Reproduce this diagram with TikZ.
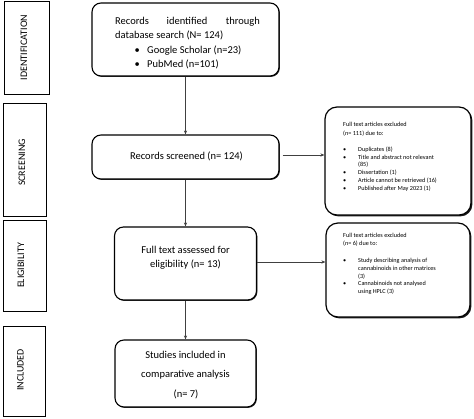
\documentclass[tikz,border=0pt]{standalone}
\usepackage{fontspec}
\setmainfont{Carlito}
\usetikzlibrary{shadows,arrows.meta,calc}
\begin{document}
\begin{tikzpicture}[x=1pt,y=-1pt,
  mainbox/.style={draw=black,line width=1.1pt,rounded corners=9pt,fill=white,inner sep=0pt,
    drop shadow={shadow xshift=0.9pt,shadow yshift=-0.9pt,opacity=0.85,fill=black}},
  exbox/.style={draw=black,line width=1.2pt,rounded corners=12pt,fill=white,inner sep=0pt,
    drop shadow={shadow xshift=1.4pt,shadow yshift=-1.4pt,opacity=0.9,fill=black}},
  sidebox/.style={draw=black,line width=1pt,fill=white,inner sep=0pt,
    drop shadow={shadow xshift=0.8pt,shadow yshift=-0.8pt,opacity=0.8,fill=black}},
  maintxt/.style={font=\fontsize{10.5}{12}\selectfont,inner sep=0pt},
  smalltxt/.style={font=\fontsize{6.2}{7.5}\selectfont,inner sep=0pt},
  sidetxt/.style={font=\fontsize{10}{12}\selectfont,inner sep=0pt,rotate=90},
  arr/.style={draw=black!75,line width=0.6pt,-{Stealth[length=4pt,width=3.2pt]}}
]
\useasboundingbox (0,0) rectangle (474,418);

% side boxes
\node[sidebox,minimum width=45pt,minimum height=93pt] (sid) at (26.5,47.5) {};
\node[sidebox,minimum width=43pt,minimum height=113pt] (ssc) at (24.5,159.5) {};
\node[sidebox,minimum width=43pt,minimum height=91pt] (sel) at (24.5,265.5) {};
\node[sidebox,minimum width=42pt,minimum height=90pt] (sin) at (24,371.5) {};
\node[sidetxt] (tid) at (24,47.5) {IDENTIFICATION};
\node[sidetxt] (tsc) at (22,162.5) {SCREENING};
\node[sidetxt] (tel) at (21,265.5) {ELIGIBILITY};
\node[sidetxt] (tin) at (20.5,370) {INCLUDED};

% main boxes
\node[mainbox,minimum width=187pt,minimum height=73pt] (id) at (185.5,39.5) {};
\node[mainbox,minimum width=187pt,minimum height=44pt] (scr) at (185.5,157) {};
\node[mainbox,minimum width=142pt,minimum height=73pt] (elig) at (185.5,263.5) {};
\node[mainbox,minimum width=141pt,minimum height=67pt] (incl) at (185.5,373.5) {};
\node[exbox,minimum width=146pt,minimum height=108pt] (ex1) at (398,161) {};
\node[exbox,minimum width=144pt,minimum height=94pt] (ex2) at (398,270) {};

% identification text
\node[maintxt,anchor=base west] (i1a) at (115,24) {Records};
\node[maintxt,anchor=base] (i1b) at (187,24) {identified};
\node[maintxt,anchor=base east] (i1c) at (260,24) {through};
\node[maintxt,anchor=base west] (i2) at (115,38) {database search (N= 124)};
\node[maintxt,anchor=base west] (i3b) at (134.5,53) {\textbullet};
\node[maintxt,anchor=base west] (i3) at (147,53) {Google Scholar (n=23)};
\node[maintxt,anchor=base west] (i4b) at (134.5,67) {\textbullet};
\node[maintxt,anchor=base west] (i4) at (147,67) {PubMed (n=101)};

% screening text
\node[maintxt,anchor=base] (s1) at (186.5,159.5) {Records screened (n= 124)};

% eligibility text
\node[maintxt,anchor=base] (e1) at (185.5,253.5) {Full text assessed for};
\node[maintxt,anchor=base] (e2) at (185.5,267.5) {eligibility (n= 13)};

% included text
\node[maintxt,anchor=base] (n1) at (185.5,358.5) {Studies included in};
\node[maintxt,anchor=base] (n2) at (185.5,377.5) {comparative analysis};
\node[maintxt,anchor=base] (n3) at (186,397.5) {(n= 7)};

% excluded 1 text
\node[smalltxt,anchor=base west] (a1) at (343,126.3) {Full text articles excluded};
\node[smalltxt,anchor=base west] (a2) at (343,135.3) {(n= 111) due to:};
\node[smalltxt,anchor=base west] (a3b) at (343,151.3) {\textbullet};
\node[smalltxt,anchor=base west] (a3) at (358,151.3) {Duplicates (8)};
\node[smalltxt,anchor=base west] (a4b) at (343,159.3) {\textbullet};
\node[smalltxt,anchor=base west] (a4) at (358,159.3) {Title and abstract not relevant};
\node[smalltxt,anchor=base west] (a5) at (358,166.8) {(85)};
\node[smalltxt,anchor=base west] (a6b) at (343,174.3) {\textbullet};
\node[smalltxt,anchor=base west] (a6) at (358,174.3) {Dissertation (1)};
\node[smalltxt,anchor=base west] (a7b) at (343,182.3) {\textbullet};
\node[smalltxt,anchor=base west] (a7) at (358,182.3) {Article cannot be retrieved (16)};
\node[smalltxt,anchor=base west] (a8b) at (343,190.3) {\textbullet};
\node[smalltxt,anchor=base west] (a8) at (358,190.3) {Published after May 2023 (1)};

% excluded 2 text
\node[smalltxt,anchor=base west] (b1) at (343,237.3) {Full text articles excluded};
\node[smalltxt,anchor=base west] (b2) at (343,245.3) {(n= 6) due to:};
\node[smalltxt,anchor=base west] (b3b) at (343,262.3) {\textbullet};
\node[smalltxt,anchor=base west] (b3) at (358,262.3) {Study describing analysis of};
\node[smalltxt,anchor=base west] (b4) at (358,270.3) {cannabinoids in other matrices};
\node[smalltxt,anchor=base west] (b5) at (358,278.3) {(3)};
\node[smalltxt,anchor=base west] (b6b) at (343,285.3) {\textbullet};
\node[smalltxt,anchor=base west] (b6) at (358,285.3) {Cannabinoids not analysed};
\node[smalltxt,anchor=base west] (b7) at (358,293.3) {using HPLC (3)};

% connectors
\draw[arr] (id.south) -- (scr.north);
\draw[arr] (scr.south) -- (elig.north);
\draw[arr] (elig.south) -- (incl.north);
\draw[arr] ([xshift=3pt,yshift=2pt]scr.east) -- ([yshift=2pt]scr.east -| ex1.west);
\draw[arr] ([yshift=1.5pt]elig.east) -- ([yshift=1.5pt]elig.east -| ex2.west);
\end{tikzpicture}
\end{document}
